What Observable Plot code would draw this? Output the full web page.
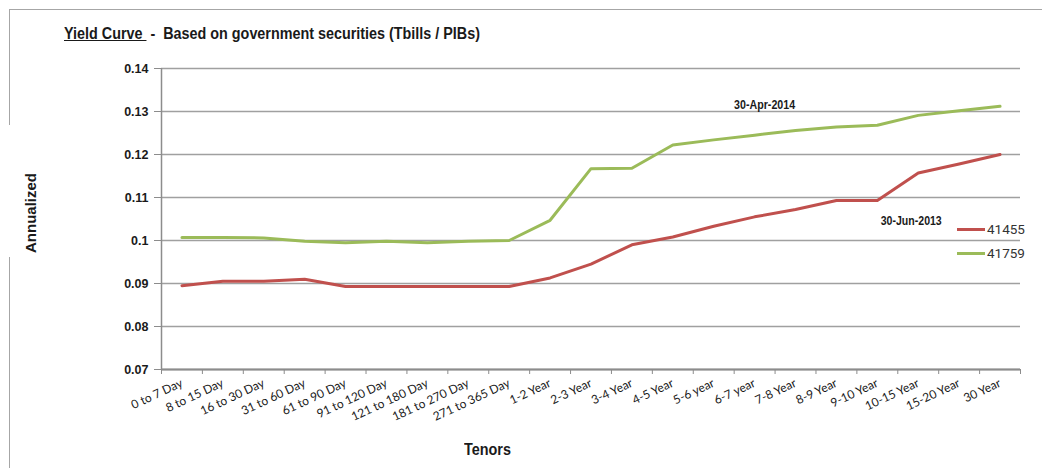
<!DOCTYPE html>
<html>
<head>
<meta charset="utf-8">
<script src="https://cdn.jsdelivr.net/npm/d3@7"></script>
<script src="https://cdn.jsdelivr.net/npm/@observablehq/plot@0.6"></script>
<style>
  html, body { margin: 0; padding: 0; background: #fff; overflow: hidden; }
  #wrap { position: relative; width: 1042px; height: 468px; overflow: hidden; }
  #border { position: absolute; left: 9px; top: 9px; width: 1100px; height: 600px; border: 1.5px solid #a6a6a6; box-sizing: border-box; }
  #gap { position: absolute; left: 4px; top: 125px; width: 12px; height: 132px; background: #fff; }
  #chart { position: absolute; left: 0; top: 0; }
  #title { position: absolute; left: 64px; top: 25px; font-family: "Liberation Sans", Arial, sans-serif; font-weight: bold; font-size: 16px; color: #1a1a1a; white-space: pre; transform-origin: 0 50%; display: inline-block; }
  #title u { text-decoration: underline; }
  #ylab { position: absolute; left: 30px; top: 213px; transform: translate(-50%, -50%) rotate(-90deg); font-family: "Liberation Sans", Arial, sans-serif; font-weight: bold; font-size: 15px; color: #1a1a1a; white-space: nowrap; }
  #xlab { position: absolute; left: 487px; top: 440px; font-family: "Liberation Sans", Arial, sans-serif; font-weight: bold; font-size: 17px; color: #1a1a1a; white-space: nowrap; }
  .leg { position: absolute; left: 957px; font-family: Roboto, "Liberation Sans", sans-serif; font-size: 13.5px; color: #333; display: flex; align-items: center; }
  .leg span.sw { display: inline-block; width: 28px; height: 3px; margin-right: 2px; }
</style>
</head>
<body>
<div id="wrap">
  <div id="border"></div>
  <div id="gap"></div>
  <div id="chart"></div>
  <div id="title"><u>Yield Curve </u> -  Based on government securities (Tbills / PIBs)</div>
  <div id="ylab">Annualized</div>
  <div id="xlab">Tenors</div>
  <div class="leg" style="top:221px"><span class="sw" style="background:#C0504D"></span>41455</div>
  <div class="leg" style="top:245px"><span class="sw" style="background:#9BBB59"></span>41759</div>
</div>
<script>
const tenors = ["0 to 7 Day","8 to 15 Day","16 to 30 Day","31 to 60 Day","61 to 90 Day","91 to 120 Day","121 to 180 Day","181 to 270 Day","271 to 365 Day","1-2 Year","2-3 Year","3-4 Year","4-5 Year","5-6 year","6-7 year","7-8 Year","8-9 Year","9-10 Year","10-15 Year","15-20 Year","30 Year"];
const series41455 = [0.0895,0.0905,0.0905,0.0910,0.0893,0.0893,0.0893,0.0893,0.0893,0.0913,0.0945,0.0990,0.1008,0.1033,0.1055,0.1072,0.1093,0.1093,0.1157,0.1178,0.1200];
const series41759 = [0.1007,0.1007,0.1006,0.0998,0.0995,0.0998,0.0995,0.0998,0.1000,0.1047,0.1167,0.1168,0.1222,0.1234,0.1245,0.1256,0.1264,0.1268,0.1291,0.1302,0.1312];
const yTicks = [0.07,0.08,0.09,0.1,0.11,0.12,0.13,0.14];
const yTickLabels = ["0.07","0.08","0.09","0.1","0.11","0.12","0.13","0.14"];
const annotationLabels = ["30-Apr-2014", "30-Jun-2013"];
const annotationTenors = ["6-7 year", "10-15 Year"];
const annotationValues = [0.1316, 0.1045];

const idx = tenors.map((_, i) => i);
const boundaries = d3.range(tenors.length + 1).map(i => i - 0.5);
const data = [
  ...tenors.map((t, i) => ({i, v: series41455[i], s: "41455"})),
  ...tenors.map((t, i) => ({i, v: series41759[i], s: "41759"}))
];
const ann = annotationLabels.map((label, k) => ({label, i: tenors.indexOf(annotationTenors[k]), value: annotationValues[k]}));
const annStyle = {x: "i", y: "value", text: "label", className: "ann",
  fontFamily: "Liberation Sans, Arial, sans-serif", fontWeight: "bold", fontSize: 12.5, fill: "#1a1a1a"};

const chart = Plot.plot({
  width: 1042,
  height: 468,
  marginLeft: 161,
  marginRight: 22,
  marginTop: 68,
  marginBottom: 99,
  style: {background: "transparent", overflow: "visible"},
  x: {type: "linear", domain: [-0.5, tenors.length - 0.5]},
  y: {domain: [0.07, 0.14]},
  color: {domain: ["41455", "41759"], range: ["#C0504D", "#9BBB59"]},
  marks: [
    Plot.gridY(yTicks, {stroke: "#a0a0a0", strokeOpacity: 1, strokeWidth: 1.5}),
    Plot.ruleX([-0.5], {stroke: "#8c8c8c", strokeWidth: 1.5}),
    Plot.ruleY([0.07], {stroke: "#8c8c8c", strokeWidth: 2}),
    Plot.axisY(yTicks, {tickSize: 7, tickPadding: 6, stroke: "#8c8c8c", tickFormat: (d, k) => yTickLabels[k],
      fontFamily: "Liberation Sans, Arial, sans-serif", fontWeight: "bold", fontSize: 12.5, fill: "#1a1a1a", label: null}),
    Plot.axisX(boundaries, {tickSize: 5, tickFormat: () => "", stroke: "#8c8c8c", label: null}),
    Plot.axisX(idx, {tickSize: 0, tickPadding: 13, tickRotate: -25, tickFormat: i => tenors[i],
      fontFamily: "Lato, 'Open Sans', sans-serif", fontSize: 12, fill: "#1a1a1a", label: null}),
    Plot.line(data, {x: "i", y: "v", z: "s", stroke: "s", strokeWidth: 3, curve: "linear"}),
    Plot.text([ann[0]], {...annStyle, dx: 10}),
    Plot.text([ann[1]], {...annStyle, dx: -7})
  ]
});
document.getElementById("chart").appendChild(chart);

// condense text to match the narrow font of the original
chart.querySelectorAll(".ann text").forEach(t => {
  t.setAttribute("textLength", 61);
  t.setAttribute("lengthAdjust", "spacingAndGlyphs");
});
function fit(el, target, centerX) {
  const w = el.getBoundingClientRect().width;
  const s = target / w;
  if (centerX !== undefined) {
    el.style.left = (centerX - target / 2) + "px";
    el.style.transformOrigin = "0 50%";
  }
  el.style.transform = `scaleX(${s})`;
}
fit(document.getElementById("title"), 416);
fit(document.getElementById("xlab"), 47, 487);
</script>
</body>
</html>
